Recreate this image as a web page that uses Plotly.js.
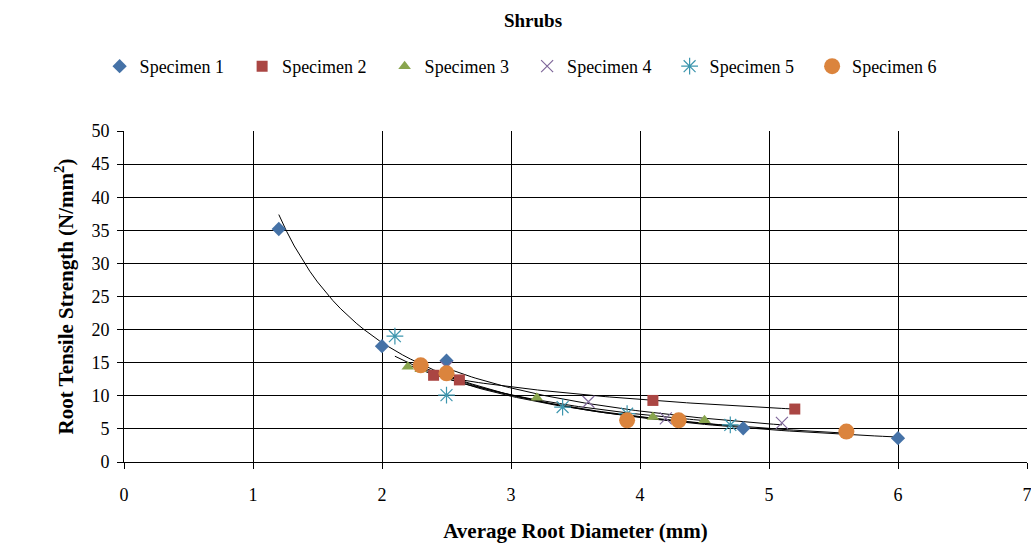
<!DOCTYPE html>
<html><head><meta charset="utf-8">
<script src="https://cdn.plot.ly/plotly-3.0.1.min.js"></script>
<style>html,body{margin:0;padding:0;background:#fff}#chart{width:1031px;height:544px}</style>
</head><body><div id="chart"></div>
<script>
// Data
const seriesNames = ["Specimen 1","Specimen 2","Specimen 3","Specimen 4","Specimen 5","Specimen 6"];
const s1x = [1.2, 2.0, 2.5, 4.8, 6.0];
const s1y = [35.2, 17.5, 15.3, 5.1, 3.6];
const s2x = [2.4, 2.6, 4.1, 5.2];
const s2y = [13.1, 12.4, 9.3, 8.0];
const s3x = [2.2, 2.3, 3.2, 4.1, 4.5];
const s3y = [14.4, 14.0, 9.7, 6.8, 6.3];
const s4x = [2.5, 3.6, 4.2, 5.1];
const s4y = [14.3, 9.1, 6.6, 5.9];
const s5x = [2.1, 2.5, 3.4, 3.9, 4.7];
const s5y = [19.0, 10.1, 8.3, 7.3, 5.6];
const s6x = [2.3, 2.5, 3.9, 4.3, 5.6];
const s6y = [14.6, 13.4, 6.3, 6.3, 4.6];

const xs = [s1x,s2x,s3x,s4x,s5x,s6x];
const ys = [s1y,s2y,s3y,s4y,s5y,s6y];
const colors = ["#4572A7","#AA4643","#89A54E","#80699B","#3D96AE","#DB843D"];
const symbols = ["diamond","square","triangle-up","x-thin-open","asterisk-open","circle"];
const sizes = [11, 11, 11, 12, 14, 16];

// power-law trendline (least squares in log-log space), like Excel's power trendline
function powerFit(x, y){
  const n = x.length;
  let sx=0, sy=0, sxx=0, sxy=0;
  for(let i=0;i<n;i++){const lx=Math.log(x[i]), ly=Math.log(y[i]); sx+=lx; sy+=ly; sxx+=lx*lx; sxy+=lx*ly;}
  const b=(n*sxy-sx*sy)/(n*sxx-sx*sx);
  const a=Math.exp((sy-b*sx)/n);
  return {a,b};
}

const traces = [];
for(let k=0;k<6;k++){
  const f = powerFit(xs[k], ys[k]);
  const lo = Math.min(...xs[k]), hi = Math.max(...xs[k]);
  const tx=[], ty=[];
  for(let i=0;i<=80;i++){const xv=lo+(hi-lo)*i/80; tx.push(xv); ty.push(f.a*Math.pow(xv,f.b));}
  traces.push({x:tx, y:ty, mode:'lines', line:{color:'#000', width:1}, showlegend:false, hoverinfo:'skip'});
}
for(let k=0;k<6;k++){
  const open = symbols[k].indexOf('open')>=0;
  traces.push({
    x: xs[k], y: ys[k], mode:'markers', name: seriesNames[k],
    marker:{symbol:symbols[k], size:sizes[k], color:colors[k],
      line:{color:colors[k], width: open?1.2:0}}
  });
}

const font = "Liberation Serif";
const layout = {
  width:1031, height:544,
  paper_bgcolor:'#fff', plot_bgcolor:'#fff',
  margin:{l:124, r:4, t:131, b:82},
  font:{family:font, color:'#000', size:18},
  title:{text:'<b>Shrubs</b>', font:{family:font, size:19, color:'#000'}, x:0.517, xanchor:'center', y:0.963, yanchor:'middle'},
  showlegend:true,
  legend:{orientation:'h', x:-0.027, xanchor:'left', y:1.195, yanchor:'middle',
    font:{family:font, size:18, color:'#000'}, entrywidth:97.5, entrywidthmode:'pixels',
    itemwidth:30, tracegroupgap:0},
  xaxis:{range:[0,7], dtick:1, tick0:0, showgrid:true, gridcolor:'#000', gridwidth:1,
    showline:true, linecolor:'#000', linewidth:1, ticks:'outside', ticklen:6, tickcolor:'#000',
    zeroline:false, tickfont:{family:font, size:18, color:'#000'}, ticklabelstandoff:10, ticklabeloverflow:'allow',
    title:{text:'<b>Average Root Diameter (mm)</b>', font:{family:font, size:21, color:'#000'}, standoff:19}},
  yaxis:{range:[0,50], dtick:5, tick0:0, showgrid:true, gridcolor:'#000', gridwidth:1,
    showline:true, linecolor:'#000', linewidth:1, ticks:'outside', ticklen:6, tickcolor:'#000',
    zeroline:false, tickfont:{family:font, size:18, color:'#000'}, ticklabelstandoff:4,
    title:{text:'<b>Root Tensile Strength (N/mm<sup>2</sup>)</b>', font:{family:font, size:21, color:'#000'}, standoff:12}}
};
Plotly.newPlot('chart', traces, layout, {displayModeBar:false, staticPlot:true});
</script></body></html>
